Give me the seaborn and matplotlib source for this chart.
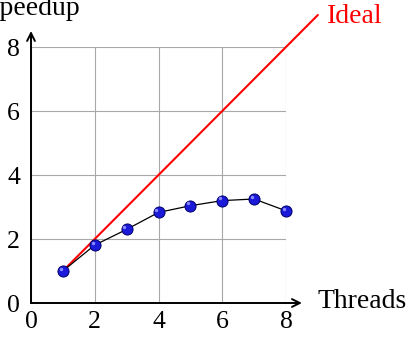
import matplotlib
matplotlib.use("Agg")
import matplotlib.pyplot as plt
import seaborn as sns
import pandas as pd

threads = [1, 2, 3, 4, 5, 6, 7, 8]
speedup = [1.0, 1.81, 2.3, 2.83, 3.04, 3.2, 3.25, 2.88]
ideal_x = [1, 9]
ideal_y = [1, 9]
ticks = [0, 2, 4, 6, 8]

sns.set_theme(style="white")
plt.rcParams['font.family'] = ['Liberation Serif', 'DejaVu Serif']
plt.rcParams['text.color'] = 'black'

fig = plt.figure(figsize=(4.11, 3.37), dpi=100)
ax = fig.add_axes([31/411, 34/337, 255/411, 256/337])

df = pd.DataFrame({"Threads": threads, "Speedup": speedup})
dfi = pd.DataFrame({"x": ideal_x, "y": ideal_y})

sns.lineplot(data=dfi, x="x", y="y", ax=ax, color="#ff0000", lw=1.5, clip_on=False, zorder=3)
sns.lineplot(data=df, x="Threads", y="Speedup", ax=ax, color="black", lw=0.9,
             marker="o", markersize=8, markerfacecolor="#1a1ad8",
             markeredgecolor="#00006a", markeredgewidth=0.7, clip_on=False, zorder=4)
# highlight for ball look
ax.scatter([t - 0.07 for t in threads], [s + 0.07 for s in speedup], s=6,
           color="#8a8aff", zorder=5, linewidths=0, clip_on=False)

ax.set_xlim(0, 8)
ax.set_ylim(0, 8)
ax.set_xticks(ticks)
ax.set_yticks(ticks)
ax.set_xticklabels([str(t) for t in ticks])
ax.set_yticklabels([str(t) for t in ticks])
ax.grid(True, color="#a8a8a8", lw=0.8)
ax.set_axisbelow(True)
for s in ax.spines.values():
    s.set_visible(False)
ax.tick_params(axis='both', length=0, labelsize=18.5, colors='black')
ax.tick_params(axis='x', pad=6)
ax.tick_params(axis='y', pad=8)
ax.set_xlabel("")
ax.set_ylabel("")

arrow = dict(arrowstyle="->", color="black", lw=1.4, shrinkA=0, shrinkB=0, mutation_scale=14)
ax.annotate("", xy=(8.5, 0), xytext=(0, 0), arrowprops=arrow, annotation_clip=False)
ax.annotate("", xy=(0, 8.5), xytext=(0, 0), arrowprops=arrow, annotation_clip=False)

ax.text(9.0, 0.05, "Threads", fontsize=20, ha="left", va="center", clip_on=False)
ax.text(1.54, 9.0, "Speedup", fontsize=20, ha="right", va="baseline", clip_on=False)
ax.text(9.3, 8.95, "Ideal", fontsize=20, ha="left", va="center", color="#ff0000", clip_on=False)

fig.savefig("out.png", dpi=100)
